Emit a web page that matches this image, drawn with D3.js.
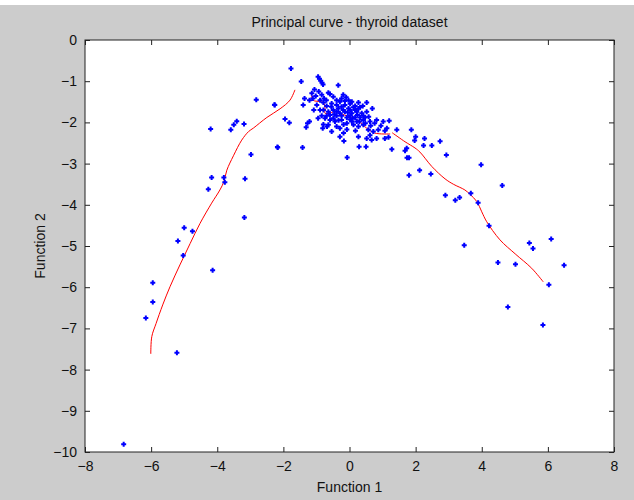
<!DOCTYPE html>
<html>
<head>
<meta charset="utf-8">
<script src="https://cdn.jsdelivr.net/npm/d3@7"></script>
<style>
  body { margin: 0; background: #fff; }
  text { font-family: "Liberation Sans", Arial, sans-serif; }
</style>
</head>
<body>
<div id="chart"></div>
<script>
// scatter points (Function 1, Function 2)
const outerPoints = [
  [-6.83,-9.81],[-5.22,-7.59],[-6.16,-6.75],[-5.95,-6.36],[-5.95,-5.89],[-4.14,-5.59],
  [-5.03,-5.23],[-5.19,-4.88],[-4.75,-4.64],[-5.00,-4.56],[-3.18,-4.31],[-4.27,-3.62],
  [-3.77,-3.45],[-3.80,-3.34],[-4.17,-3.34],[-3.16,-3.37],[-2.98,-2.78],[-2.18,-2.60],
  [-3.59,-2.18],[-4.20,-2.16],[-3.50,-2.06],[-3.41,-1.97],[-3.19,-2.04],[-2.82,-1.45],
  [-2.27,-1.57],[-1.77,-0.69],[-1.46,-1.01],[-2.26,-1.58],[-1.95,-1.92],[-1.82,-2.01],
  [-2.17,-2.61],[-1.42,-2.61],[-0.07,-2.85],[-0.34,-1.10],
  [-0.95,-0.89],[-0.91,-0.94],[-0.87,-0.99],[-0.83,-1.04],[-0.80,-1.08],
  [1.43,-2.18],[1.87,-2.18],[2.00,-2.35],[2.27,-2.39],[2.74,-2.46],[1.97,-2.44],
  [2.24,-2.56],[2.49,-2.56],[1.28,-2.65],[1.68,-2.69],[1.73,-2.63],[2.93,-2.79],
  [1.74,-2.86],[1.80,-2.86],[2.12,-3.16],[1.80,-3.28],[2.46,-3.25],
  [3.98,-3.03],[2.90,-3.77],[3.20,-3.89],[3.33,-3.82],[3.67,-3.72],[3.89,-3.95],
  [4.62,-3.53],[4.22,-4.51],[3.47,-4.98],[5.44,-4.93],[5.55,-5.06],[6.10,-4.83],
  [4.49,-5.40],[5.02,-5.44],[6.49,-5.47],[6.03,-5.94],[4.79,-6.48],[5.85,-6.92]
];

const clusterPoints = [
  [-1.14,-1.29],[-1.06,-1.20],[-0.93,-1.25],[-0.64,-1.28],[-0.59,-1.31],
  [-1.36,-1.42],[-1.21,-1.46],[-1.11,-1.42],[-0.89,-1.46],[-0.77,-1.42],[-0.49,-1.38],
  [-0.39,-1.46],[-0.19,-1.33],[-0.10,-1.39],[-0.29,-1.50],[-0.14,-1.48],
  [-1.40,-1.58],[-0.99,-1.58],[-0.79,-1.52],[-0.69,-1.60],[-0.54,-1.54],[-0.39,-1.58],
  [-0.24,-1.62],[-0.03,-1.66],[0.02,-1.55],[0.17,-1.60],[0.27,-1.52],[0.32,-1.63],
  [0.52,-1.52],[0.69,-1.66],
  [-0.89,-1.70],[-0.79,-1.70],[-0.64,-1.74],[-0.49,-1.70],[-0.29,-1.78],[-0.14,-1.74],
  [0.07,-1.78],[0.17,-1.70],[0.24,-1.82],[0.52,-1.74],[0.02,-1.84],[-0.39,-1.84],
  [-0.59,-1.82],[-0.84,-1.84],[-0.74,-1.90],[-0.59,-1.94],[-0.44,-1.98],[-0.24,-1.94],
  [-0.08,-1.88],[0.02,-1.93],[0.22,-1.98],[0.42,-1.94],[0.62,-1.98],[0.82,-1.94],
  [1.02,-1.98],[1.20,-1.96],[-1.27,-2.02],[-1.21,-1.98],[-1.31,-2.12],
  [-0.79,-2.05],[-0.81,-2.14],[-0.64,-2.06],[-0.54,-2.22],[-0.39,-2.10],[-0.29,-2.14],
  [-0.08,-2.17],[0.12,-2.06],[0.27,-2.10],[0.42,-2.06],[0.57,-2.18],[0.72,-2.22],
  [0.87,-2.18],[1.13,-2.14],[1.07,-2.20],
  [-0.29,-2.35],[-0.17,-2.45],[0.27,-2.35],[0.52,-2.39],[0.62,-2.31],[0.82,-2.39],
  [1.07,-2.39],[1.18,-2.36],[0.67,-2.43],[0.29,-2.59],[0.50,-2.59],
  [-0.34,-1.66],[-0.19,-1.70],[-0.03,-1.46],[0.07,-1.50],[0.12,-1.63],[0.22,-1.74],
  [0.37,-1.78],[0.42,-1.84],[-0.24,-1.84],[-0.08,-2.02],[0.07,-1.98],[0.32,-1.88],
  [0.47,-1.88],[-0.39,-1.74],[-0.49,-1.90],[-0.69,-1.84],[0.17,-1.88],[-0.14,-1.58],
  [0.02,-1.70],[0.27,-1.66],
  [-1.02,-1.36],[-0.84,-1.33],[-0.70,-1.46],[-0.55,-1.62],[-0.46,-1.80],[-0.33,-1.95],
  [-0.18,-2.05],[-0.05,-1.76],[0.10,-1.90],[0.30,-1.98],[0.48,-2.02],[0.64,-2.08],
  [0.76,-2.02],[0.95,-2.08],[0.18,-2.20],[-0.18,-2.26],[-0.68,-2.10],[-0.95,-1.90],
  [-1.08,-1.70],[0.40,-1.60],[0.58,-1.86],[-0.24,-1.42]
];

// principal curve, drawn as three pieces
const curveLeft = [
  [-6.01,-7.62],[-5.98,-7.20],[-5.85,-6.88],[-5.65,-6.43],[-5.43,-5.99],[-5.13,-5.46],
  [-4.82,-4.94],[-4.52,-4.45],[-4.17,-3.96],[-3.92,-3.64],[-3.80,-3.44],[-3.71,-3.16],
  [-3.51,-2.81],[-3.26,-2.43],[-3.05,-2.22],[-2.91,-2.14],[-2.50,-1.88],[-2.10,-1.67],
  [-1.80,-1.46],[-1.65,-1.21]
];
const curveMid = [
  [-1.14,-1.33],[-1.11,-1.46],[-0.79,-1.52],[-0.74,-1.68],[-0.74,-1.78],[-0.39,-1.74],
  [-0.16,-1.82],[0.22,-1.93],[0.52,-2.14],[0.77,-2.26],[1.23,-2.28]
];
const curveRight = [
  [1.29,-2.25],[1.68,-2.47],[1.98,-2.62],[2.13,-2.72],[2.49,-3.07],[2.89,-3.37],
  [3.14,-3.50],[3.49,-3.64],[3.65,-3.75],[3.85,-3.92],[4.00,-4.17],[4.15,-4.41],
  [4.55,-4.85],[5.01,-5.19],[5.51,-5.54],[5.86,-5.87]
];

const xTicks = [-8, -6, -4, -2, 0, 2, 4, 6, 8];
const yTicks = [0, -1, -2, -3, -4, -5, -6, -7, -8, -9, -10];

const W = 634, H = 500;
const margin = { top: 40, right: 20, bottom: 48, left: 85 },
    width = 614 - margin.left,
    height = 452 - margin.top;

const svg = d3.select("#chart").append("svg")
    .attr("width", W)
    .attr("height", H);

svg.append("rect")
    .attr("x", 0).attr("y", 5)
    .attr("width", W).attr("height", H - 5)
    .attr("fill", "#cccccc");

const g = svg.append("g")
    .attr("transform", `translate(${margin.left}, ${margin.top})`);

const x = d3.scaleLinear().domain([-8, 8]).range([0, width]);
const y = d3.scaleLinear().domain([-10, 0]).range([height, 0]);

g.append("rect")
    .attr("width", width).attr("height", height)
    .attr("fill", "#fff");

function styleAxis(sel, showLabels) {
    sel.select(".domain").remove();
    sel.selectAll(".tick line").attr("stroke", "#222");
    sel.selectAll(".tick text")
        .attr("fill", "#111")
        .style("font-size", "14px")
        .style("font-family", "'Liberation Sans', Arial, sans-serif");
    if (!showLabels) sel.selectAll(".tick text").remove();
}

g.append("g")
    .attr("transform", `translate(0, ${height})`)
    .call(d3.axisBottom(x).tickValues(xTicks).tickSizeInner(-5).tickSizeOuter(0).tickPadding(9))
    .call(s => styleAxis(s, true));

g.append("g")
    .call(d3.axisTop(x).tickValues(xTicks).tickSizeInner(-5).tickSizeOuter(0))
    .call(s => styleAxis(s, false));

g.append("g")
    .call(d3.axisLeft(y).tickValues(yTicks).tickSizeInner(-5).tickSizeOuter(0).tickPadding(8))
    .call(s => styleAxis(s, true));

g.append("g")
    .attr("transform", `translate(${width}, 0)`)
    .call(d3.axisRight(y).tickValues(yTicks).tickSizeInner(-5).tickSizeOuter(0))
    .call(s => styleAxis(s, false));

g.append("rect")
    .attr("width", width).attr("height", height)
    .attr("fill", "none")
    .attr("stroke", "#222")
    .attr("stroke-width", 1);

const line = d3.line()
    .x(d => x(d[0]))
    .y(d => y(d[1]))
    .curve(d3.curveCatmullRom);

g.selectAll(".curve")
    .data([curveLeft, curveMid, curveRight])
    .join("path")
    .attr("class", "curve")
    .attr("fill", "none")
    .attr("stroke", "#ff0000")
    .attr("stroke-width", 1)
    .attr("d", line);

// MATLAB '.' markers look like small blocky dots
const marker = "M-1,-2.5H1V-1H2.5V1H1V2.5H-1V1H-2.5V-1H-1Z";

g.selectAll(".pt")
    .data(outerPoints.concat(clusterPoints))
    .join("path")
    .attr("class", "pt")
    .attr("transform", d => `translate(${x(d[0])}, ${y(d[1])})`)
    .attr("d", marker)
    .attr("fill", "#0000ff");

svg.append("text")
    .attr("x", margin.left + width / 2)
    .attr("y", 27)
    .attr("text-anchor", "middle")
    .style("font-size", "14px")
    .attr("fill", "#111")
    .text("Principal curve - thyroid dataset");

svg.append("text")
    .attr("x", margin.left + width / 2)
    .attr("y", 492)
    .attr("text-anchor", "middle")
    .style("font-size", "14px")
    .attr("fill", "#111")
    .text("Function 1");

svg.append("text")
    .attr("transform", "rotate(-90)")
    .attr("x", -(margin.top + height / 2))
    .attr("y", 45)
    .attr("text-anchor", "middle")
    .style("font-size", "14px")
    .attr("fill", "#111")
    .text("Function 2");
</script>
</body>
</html>
